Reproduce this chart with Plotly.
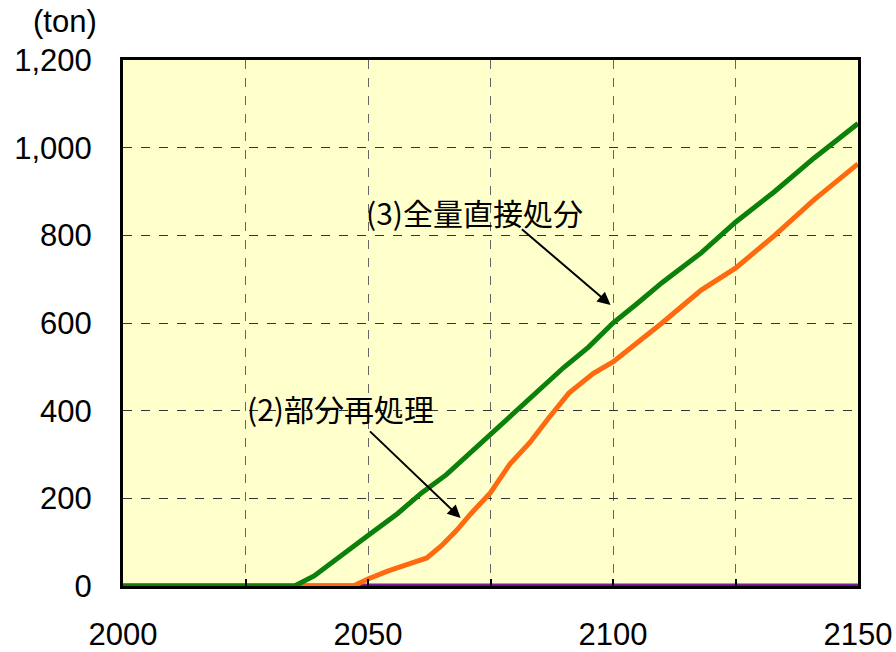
import plotly.graph_objects as go

# Data
years_direct = [2000, 2035, 2039, 2046, 2050, 2056, 2061, 2066, 2070, 2075, 2080, 2085, 2090,
                2095, 2100, 2105, 2110, 2118, 2125, 2133, 2141, 2150]
direct_disposal = [0, 0, 23, 80, 115, 165, 213, 254, 295, 348, 400, 451, 499,
                   545, 600, 645, 692, 760, 830, 900, 976, 1055]

years_partial = [2000, 2047, 2050, 2054, 2059, 2062, 2065, 2068, 2071, 2075, 2079, 2083, 2087,
                 2091, 2096, 2100, 2110, 2118, 2125, 2133, 2141, 2150]
partial_reprocess = [0, 0, 16, 34, 53, 64, 92, 126, 165, 213, 279, 327, 385,
                     440, 485, 511, 600, 675, 725, 800, 881, 963]

years_full = [2000, 2150]
full_reprocess = [0, 0]

x_tickvals = [2000, 2025, 2050, 2075, 2100, 2125, 2150]
x_ticktext = ["2000", "", "2050", "", "2100", "", "2150"]

label_direct = "(3)全量直接処分"
label_partial = "(2)部分再処理"

font_main = "Arial, Liberation Sans, Noto Sans CJK JP, sans-serif"

fig = go.Figure()
fig.add_trace(go.Scatter(x=years_full, y=full_reprocess, mode="lines",
                         line=dict(color="#7A1FA0", width=5), cliponaxis=False,
                         showlegend=False))
fig.add_trace(go.Scatter(x=years_full, y=full_reprocess, mode="lines",
                         line=dict(color="#1A1A9A", width=1.2), cliponaxis=False,
                         showlegend=False))
fig.add_trace(go.Scatter(x=years_partial, y=partial_reprocess, mode="lines",
                         line=dict(color="#FF6A10", width=5), cliponaxis=False,
                         showlegend=False))
fig.add_trace(go.Scatter(x=years_direct, y=direct_disposal, mode="lines",
                         line=dict(color="#0B800B", width=5), cliponaxis=False,
                         showlegend=False))

ann_font = dict(family="Noto Sans CJK JP, Arial, sans-serif", size=30, color="black")

fig.update_layout(
    width=896, height=652,
    margin=dict(l=123, r=38, t=60, b=66, autoexpand=False),
    paper_bgcolor="white",
    plot_bgcolor="#FFFFCC",
    font=dict(family=font_main, size=31, color="black"),
    xaxis=dict(range=[2000, 2150], tickvals=x_tickvals, ticktext=x_ticktext,
               showgrid=True, gridcolor="#666666", griddash="dash", gridwidth=1.2,
               ticks="inside", ticklen=7, tickwidth=2, tickcolor="black",
               showline=True, linecolor="black", linewidth=3, mirror=True,
               ticklabelstandoff=19, zeroline=False, automargin=False,
               tickfont=dict(size=31)),
    yaxis=dict(range=[0, 1200], dtick=200, tickformat=",",
               showgrid=True, gridcolor="#333333", griddash="dash", gridwidth=1,
               ticks="", showline=True, linecolor="black", linewidth=3, mirror=True,
               ticklabelstandoff=22, zeroline=False, automargin=False,
               tickfont=dict(size=31)),
    annotations=[
        dict(text="(ton)", xref="paper", yref="paper", x=-0.079, y=1.074,
             showarrow=False, font=dict(family=font_main, size=31), xanchor="center",
             yanchor="middle"),
        dict(text=label_direct, x=2071.7, y=853, xref="x", yref="y",
             showarrow=False, font=ann_font),
        dict(text="", x=2099.5, y=641, ax=2081.1, ay=817, xref="x", yref="y",
             axref="x", ayref="y", showarrow=True, arrowhead=2, arrowsize=1.3,
             arrowwidth=2, arrowcolor="black"),
        dict(text=label_partial, x=2044.3, y=406, xref="x", yref="y",
             showarrow=False, font=ann_font),
        dict(text="", x=2068.9, y=155, ax=2050.1, ay=356, xref="x", yref="y",
             axref="x", ayref="y", showarrow=True, arrowhead=2, arrowsize=1.3,
             arrowwidth=2, arrowcolor="black"),
    ],
)

fig.write_html("out.html", config={"displayModeBar": False},
               post_script="document.body.style.margin='0';document.body.style.overflow='hidden';")
